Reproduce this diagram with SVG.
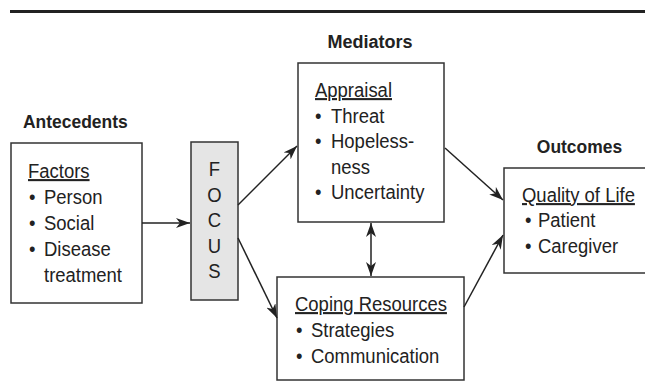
<svg xmlns="http://www.w3.org/2000/svg" width="645" height="382" viewBox="0 0 645 382">
<style>
.box{fill:#fff;stroke:#333;stroke-width:1.5}
.focus{fill:#e5e5e5;stroke:#333;stroke-width:1.5}
.t{font-family:"Liberation Sans",Arial,sans-serif;font-size:21px;fill:#222}
.u{text-decoration:underline}
.h{font-family:"Liberation Sans",Arial,sans-serif;font-size:18px;font-weight:bold;fill:#222}
.c{stroke:#222;stroke-width:1.5;fill:none}
</style>
<defs>
<marker id="ah" markerUnits="userSpaceOnUse" markerWidth="14" markerHeight="10" refX="14" refY="5" orient="auto-start-reverse" viewBox="0 0 14 10">
<path d="M0,0 L14,5 L0,10 L4,5 z" fill="#222"/>
</marker>
</defs>
<rect x="10" y="10" width="640" height="3" fill="#222"/>
<g id="titles">
<text class="h" transform="translate(23,128) scale(0.97,1)">Antecedents</text>
<text class="h" text-anchor="middle" transform="translate(370,48)">Mediators</text>
<text class="h" text-anchor="middle" transform="translate(579.5,153) scale(0.97,1)">Outcomes</text>
</g>
<g id="factors">
<rect class="box" x="11" y="143" width="131" height="160"/>
<text class="t u" transform="translate(28,178) scale(0.88,1)">Factors</text>
<text class="t" transform="translate(29,204) scale(0.88,1)">•</text>
<text class="t" transform="translate(44,204) scale(0.88,1)">Person</text>
<text class="t" transform="translate(29,230) scale(0.88,1)">•</text>
<text class="t" transform="translate(44,230) scale(0.88,1)">Social</text>
<text class="t" transform="translate(29,256) scale(0.88,1)">•</text>
<text class="t" transform="translate(44,256) scale(0.88,1)">Disease</text>
<text class="t" transform="translate(44,282) scale(0.88,1)">treatment</text>
</g>
<g id="focus">
<rect class="focus" x="191" y="142" width="47" height="158"/>
<text class="t" text-anchor="middle" transform="translate(214.5,176) scale(0.88,1)">F</text>
<text class="t" text-anchor="middle" transform="translate(214.5,201.5) scale(0.88,1)">O</text>
<text class="t" text-anchor="middle" transform="translate(214.5,227) scale(0.88,1)">C</text>
<text class="t" text-anchor="middle" transform="translate(214.5,252.5) scale(0.88,1)">U</text>
<text class="t" text-anchor="middle" transform="translate(214.5,278) scale(0.88,1)">S</text>
</g>
<g id="appraisal">
<rect class="box" x="298" y="63" width="146" height="159"/>
<text class="t u" transform="translate(315,97) scale(0.88,1)">Appraisal</text>
<text class="t" transform="translate(315,122.5) scale(0.88,1)">•</text>
<text class="t" transform="translate(331,122.5) scale(0.88,1)">Threat</text>
<text class="t" transform="translate(315,148) scale(0.88,1)">•</text>
<text class="t" transform="translate(331,148) scale(0.88,1)">Hopeless-</text>
<text class="t" transform="translate(331,173.5) scale(0.88,1)">ness</text>
<text class="t" transform="translate(315,199) scale(0.88,1)">•</text>
<text class="t" transform="translate(331,199) scale(0.88,1)">Uncertainty</text>
</g>
<g id="coping">
<rect class="box" x="277" y="277" width="187" height="103"/>
<text class="t u" transform="translate(295,311) scale(0.88,1)">Coping Resources</text>
<text class="t" transform="translate(296,337) scale(0.88,1)">•</text>
<text class="t" transform="translate(311,337) scale(0.88,1)">Strategies</text>
<text class="t" transform="translate(296,363) scale(0.88,1)">•</text>
<text class="t" transform="translate(311,363) scale(0.88,1)">Communication</text>
</g>
<g id="quality">
<rect class="box" x="504" y="168" width="160" height="105"/>
<text class="t u" transform="translate(522,202) scale(0.88,1)">Quality of Life</text>
<text class="t" transform="translate(525,227) scale(0.88,1)">•</text>
<text class="t" transform="translate(538,227) scale(0.88,1)">Patient</text>
<text class="t" transform="translate(525,253) scale(0.88,1)">•</text>
<text class="t" transform="translate(538,253) scale(0.88,1)">Caregiver</text>
</g>
<g id="connectors">
<line class="c" x1="142" y1="223" x2="190" y2="223" marker-end="url(#ah)"/>
<line class="c" x1="238" y1="205" x2="297" y2="146" marker-end="url(#ah)"/>
<line class="c" x1="238" y1="238" x2="277" y2="318" marker-end="url(#ah)"/>
<line class="c" x1="371" y1="223" x2="371" y2="276" marker-start="url(#ah)" marker-end="url(#ah)"/>
<line class="c" x1="445" y1="148" x2="503" y2="200" marker-end="url(#ah)"/>
<line class="c" x1="464" y1="307" x2="503" y2="235" marker-end="url(#ah)"/>
</g>
</svg>
